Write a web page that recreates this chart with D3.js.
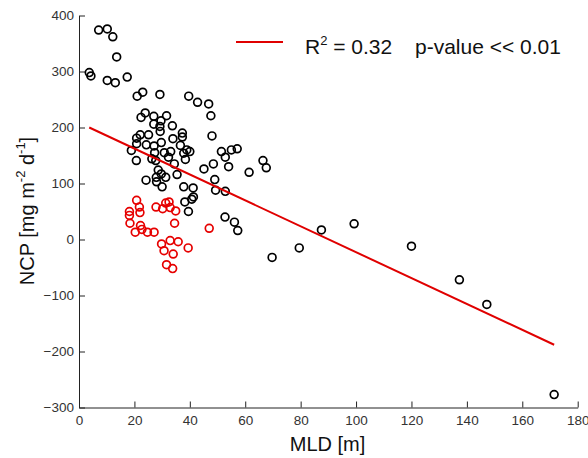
<!DOCTYPE html>
<html>
<head>
<meta charset="utf-8">
<script src="https://cdn.jsdelivr.net/npm/d3@7"></script>
<style>
  body { margin: 0; background: #fff; }
  svg { display: block; font-family: Arial, "Liberation Sans", sans-serif; }
  .axis path, .axis line { stroke: #222; }
  .axis text { fill: #333; font-size: 13.5px; }
</style>
</head>
<body>
<script>
// MLD [m], NCP [mg m-2 d-1] - black circles
var blackMLD = [3.7, 4.3, 7.1, 10.2, 12.2, 13.6, 10.2, 13.1, 17.4,
  21, 23, 29.2, 39.6, 42.8, 46.8, 47.6, 48,
  23.9, 22.4, 27, 31.6, 29.6, 27, 29.2, 33.7,
  29.3, 22.1, 25.1, 20.8, 37.3, 37.3, 20.8, 24.3, 27.1, 29.7, 33.9, 36.6,
  18.9, 27.3, 30.8, 33.1, 38.9, 40, 37.8,
  20.7, 26.3, 27.7, 32.3, 38.4, 34.4,
  28.6, 24.2, 27.9, 31.3, 35.4, 29.7, 28, 30, 37.8, 41.2,
  45.1, 48.5, 49, 49.3, 52.8,
  51.4, 52.8, 55, 57.1, 54, 61.4, 66.4, 67.6,
  41.3, 38.2, 40.7, 39.5, 52.7, 56.1, 57.3, 69.7, 79.5, 87.5, 99.3, 120, 137.3, 147.2, 171.5];
var blackNCP = [298, 292, 374, 376, 362, 326, 284, 280, 290,
  256, 263, 259, 256, 245, 242, 221, 185,
  226, 218, 220, 221, 212, 206, 202, 203,
  193, 187, 187, 181, 190, 183, 171, 169, 167, 173, 180, 168,
  159, 155, 155, 157, 160, 157, 154,
  141, 144, 141, 147, 143, 135,
  124, 106, 111, 111, 116, 117, 103, 94, 94, 92,
  126, 135, 107, 88, 86,
  157, 147, 160, 162, 130, 120, 141, 128,
  76, 67, 72, 50, 40, 31, 16, -32, -15, 17, 28, -12, -72, -116, -277];

// red circles
var redMLD = [20.8, 21.8, 22, 18.2, 18.2, 18.4, 22.2, 20.3, 22.7, 24.7, 27.1,
  27.8, 30.2, 31.3, 32.5, 32.9, 34.9, 34.5, 29.8, 32.9, 35.8, 30.7, 34, 39.4, 31.6, 33.8, 47];
var redNCP = [70, 58, 48, 50, 43, 29, 25, 13, 18, 13, 13,
  58, 55, 65, 67, 57, 51, 29, -8, -2, -4, -20, -26, -15, -45, -52, 20];

// linear fit end points
var fitMLD = [3.7, 171.5];
var fitNCP = [200, -188];

var xTicks = [0, 20, 40, 60, 80, 100, 120, 140, 160, 180];
var yTicks = [-300, -200, -100, 0, 100, 200, 300, 400];

var w = 588, h = 458;
var padL = 79, padR = 577.7, padT = 15.5, padB = 407.5;

var svg = d3.select("body").append("svg")
  .attr("width", w)
  .attr("height", h);

var x = d3.scaleLinear().domain([0, 180]).range([padL, padR]);
var y = d3.scaleLinear().domain([-300, 400]).range([padB, padT]);

svg.append("g")
  .attr("class", "axis")
  .attr("transform", "translate(0," + padB + ")")
  .call(d3.axisBottom(x).tickValues(xTicks).tickSizeInner(-6).tickSizeOuter(0).tickPadding(8));

svg.append("g")
  .attr("class", "axis")
  .attr("transform", "translate(" + padL + ",0)")
  .call(d3.axisLeft(y).tickValues(yTicks).tickSizeInner(-6).tickSizeOuter(0).tickPadding(5));

svg.selectAll(".axis").attr("font-family", null).attr("font-size", null);

var black = d3.zip(blackMLD, blackNCP);
var red = d3.zip(redMLD, redNCP);

svg.append("g").selectAll("circle")
  .data(black)
  .enter()
  .append("circle")
  .attr("cx", function(d){ return x(d[0]); })
  .attr("cy", function(d){ return y(d[1]); })
  .attr("r", 3.9)
  .attr("fill", "none")
  .attr("stroke", "#000")
  .attr("stroke-width", 1.7);

svg.append("g").selectAll("circle")
  .data(red)
  .enter()
  .append("circle")
  .attr("cx", function(d){ return x(d[0]); })
  .attr("cy", function(d){ return y(d[1]); })
  .attr("r", 3.9)
  .attr("fill", "none")
  .attr("stroke", "#e60000")
  .attr("stroke-width", 1.7);

var line = d3.line()
  .x(function(d){ return x(d[0]); })
  .y(function(d){ return y(d[1]); });

svg.append("path")
  .datum(d3.zip(fitMLD, fitNCP))
  .attr("d", line)
  .attr("fill", "none")
  .attr("stroke", "#e00000")
  .attr("stroke-width", 2);

// legend
svg.append("line")
  .attr("x1", 236).attr("x2", 283)
  .attr("y1", 42).attr("y2", 42)
  .attr("stroke", "#e00000")
  .attr("stroke-width", 2);

var leg = svg.append("text")
  .attr("x", 305)
  .attr("y", 54)
  .attr("font-size", "21px")
  .attr("fill", "#111");
leg.append("tspan").text("R");
leg.append("tspan").attr("font-size", "13px").attr("dy", -9).text("2");
leg.append("tspan").attr("dy", 9).text(" = 0.32");
leg.append("tspan").attr("x", 415).text("p-value << 0.01");

// axis titles
svg.append("text")
  .attr("x", 327.5)
  .attr("y", 451)
  .attr("text-anchor", "middle")
  .attr("font-size", "20px")
  .attr("fill", "#111")
  .text("MLD [m]");

var yl = svg.append("text")
  .attr("transform", "translate(33.5,211) rotate(-90)")
  .attr("text-anchor", "middle")
  .attr("font-size", "20px")
  .attr("fill", "#111");
yl.append("tspan").text("NCP [mg m");
yl.append("tspan").attr("font-size", "13px").attr("dy", -9).text("-2");
yl.append("tspan").attr("dy", 9).text(" d");
yl.append("tspan").attr("font-size", "13px").attr("dy", -9).text("-1");
yl.append("tspan").attr("dy", 9).text("]");
</script>
</body>
</html>
